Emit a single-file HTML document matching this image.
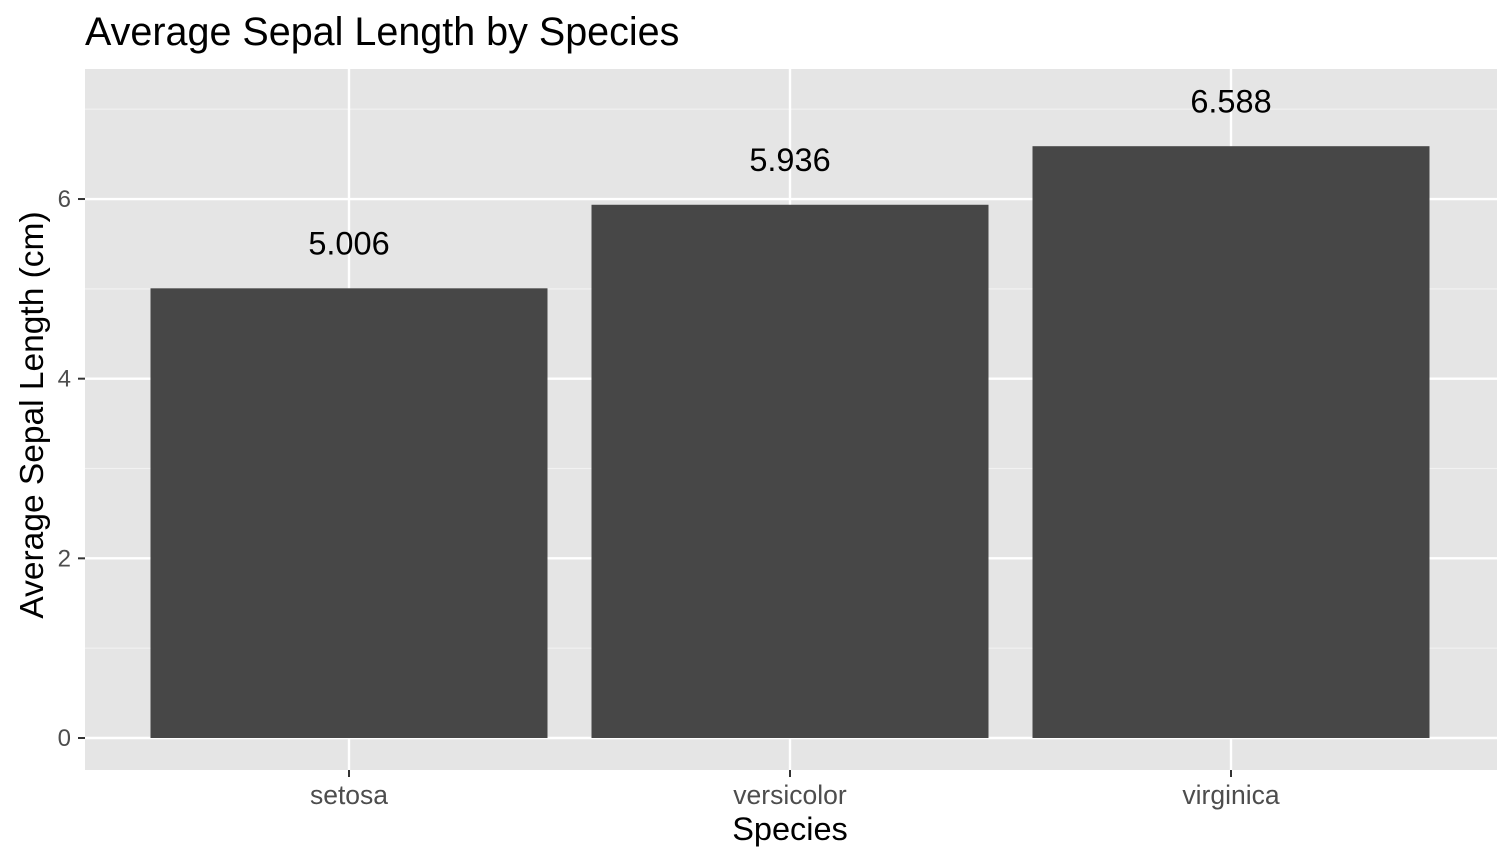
<!DOCTYPE html>
<html><head><meta charset="utf-8"><style>
body{margin:0;background:#fff;}
svg{display:block;font-family:"Liberation Sans",Arial,sans-serif;}
</style></head><body>
<svg id="chart" width="1512" height="864">
<rect x="0" y="0" width="1512" height="864" fill="#fff"/>
<text x="85" y="45" font-size="39.5" fill="#000">Average Sepal Length by Species</text>
<rect x="85" y="69" width="1412" height="701" fill="#e5e5e5"/>
<g id="grid"></g><g id="bars"></g><g id="labels"></g><g id="axes"></g>
<text x="790" y="840" font-size="32.5" text-anchor="middle" fill="#000">Species</text>
<text transform="translate(43,415) rotate(-90)" font-size="33.5" text-anchor="middle" fill="#000">Average Sepal Length (cm)</text>
</svg>
<script>
const categories=["setosa","versicolor","virginica"];
const values=[5.006,5.936,6.588];
const valueLabels=["5.006","5.936","6.588"];
const yTicks=[0,2,4,6];
const yMinor=[1,3,5,7];
const NS="http://www.w3.org/2000/svg";
const y0=738,pxPerUnit=89.83;
function yScale(v){return y0-v*pxPerUnit;}
const left=85,band=441,pad=43.5;
function xScale(i){return left+pad+band*(i+0.5);}
const barW=397;
function mk(tag,attrs,parent){const e=document.createElementNS(NS,tag);for(const k in attrs)e.setAttribute(k,attrs[k]);document.getElementById(parent).appendChild(e);return e;}
yMinor.forEach(v=>{const l=mk("line",{x1:85,x2:1497,y1:yScale(v),y2:yScale(v),stroke:"#f2f2f2","stroke-width":1.2},"grid");

});
yTicks.forEach(v=>{const y=yScale(v);
const l=mk("line",{x1:85,x2:1497,y1:y,y2:y,stroke:"#fff","stroke-width":2.4},"grid");


const t=mk("line",{x1:78,x2:85,y1:y,y2:y,stroke:"#333","stroke-width":2},"axes");


const tx=mk("text",{x:71,y:y+8,"font-size":24,"text-anchor":"end",fill:"#4d4d4d"},"axes");tx.textContent=v;

});
categories.forEach((c,i)=>{const cx=xScale(i);
const g=mk("line",{x1:cx,x2:cx,y1:69,y2:770,stroke:"#fff","stroke-width":2.4},"grid");


const b=mk("rect",{x:cx-barW/2,y:yScale(values[i]),width:barW,height:y0-yScale(values[i]),fill:"#474747"},"bars");


const lb=mk("text",{x:cx,y:yScale(values[i]+0.5)+11,"font-size":32.5,"text-anchor":"middle",fill:"#000"},"labels");lb.textContent=valueLabels[i];


const t=mk("line",{x1:cx,x2:cx,y1:770,y2:777,stroke:"#333","stroke-width":2},"axes");


const tx=mk("text",{x:cx,y:804,"font-size":26.5,"text-anchor":"middle",fill:"#4d4d4d"},"axes");tx.textContent=c;

});
</script>
</body></html>
